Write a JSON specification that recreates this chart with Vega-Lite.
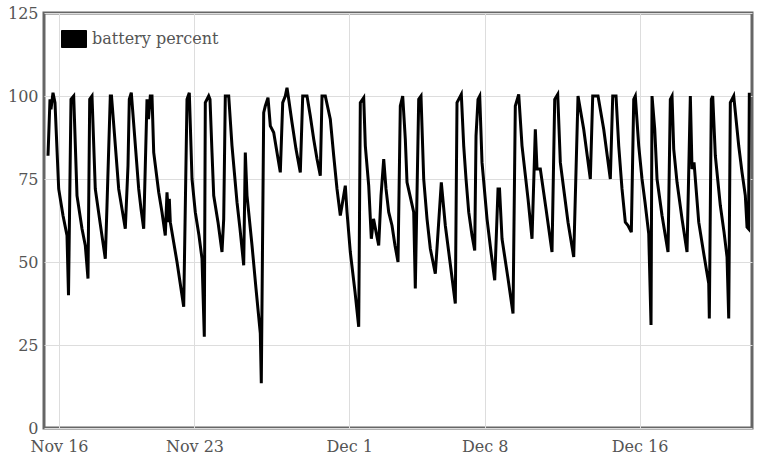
{
  "$schema": "https://vega.github.io/schema/vega-lite/v6.json",
  "width": 708,
  "height": 415,
  "autosize": "none",
  "padding": {"left": 44, "top": 13, "right": 8, "bottom": 36},
  "background": "white",
  "config": {
    "view": {"stroke": "#666666", "strokeWidth": 3},
    "font": "DejaVu Serif"
  },
  "data": {
    "values": [
      {"t": "2015-11-15T10:22", "v": 82},
      {"t": "2015-11-15T12:50", "v": 99},
      {"t": "2015-11-15T14:05", "v": 96},
      {"t": "2015-11-15T16:34", "v": 101},
      {"t": "2015-11-15T19:02", "v": 98},
      {"t": "2015-11-15T23:38", "v": 72},
      {"t": "2015-11-16T04:58", "v": 64},
      {"t": "2015-11-16T09:55", "v": 58},
      {"t": "2015-11-16T11:47", "v": 40},
      {"t": "2015-11-16T14:53", "v": 99},
      {"t": "2015-11-16T18:14", "v": 100},
      {"t": "2015-11-16T22:20", "v": 70},
      {"t": "2015-11-17T04:32", "v": 60},
      {"t": "2015-11-17T08:37", "v": 55},
      {"t": "2015-11-17T11:58", "v": 45},
      {"t": "2015-11-17T14:05", "v": 99},
      {"t": "2015-11-17T16:56", "v": 100},
      {"t": "2015-11-17T21:01", "v": 72},
      {"t": "2015-11-18T02:51", "v": 62},
      {"t": "2015-11-18T09:26", "v": 51},
      {"t": "2015-11-18T11:32", "v": 67},
      {"t": "2015-11-18T15:38", "v": 100},
      {"t": "2015-11-18T17:07", "v": 100},
      {"t": "2015-11-19T02:03", "v": 72},
      {"t": "2015-11-19T06:08", "v": 66},
      {"t": "2015-11-19T10:14", "v": 60},
      {"t": "2015-11-19T13:35", "v": 79},
      {"t": "2015-11-19T15:11", "v": 99},
      {"t": "2015-11-19T17:40", "v": 101},
      {"t": "2015-11-20T02:51", "v": 72},
      {"t": "2015-11-20T05:43", "v": 66},
      {"t": "2015-11-20T09:03", "v": 60},
      {"t": "2015-11-20T13:09", "v": 99},
      {"t": "2015-11-20T15:01", "v": 93},
      {"t": "2015-11-20T17:14", "v": 100},
      {"t": "2015-11-20T19:21", "v": 100},
      {"t": "2015-11-20T21:28", "v": 83},
      {"t": "2015-11-21T03:40", "v": 71},
      {"t": "2015-11-21T07:45", "v": 65},
      {"t": "2015-11-21T11:50", "v": 58},
      {"t": "2015-11-21T13:57", "v": 71},
      {"t": "2015-11-21T16:04", "v": 62},
      {"t": "2015-11-21T16:49", "v": 69},
      {"t": "2015-11-21T18:03", "v": 62},
      {"t": "2015-11-22T02:22", "v": 50},
      {"t": "2015-11-22T10:40", "v": 36.5},
      {"t": "2015-11-22T14:46", "v": 99},
      {"t": "2015-11-22T17:37", "v": 101},
      {"t": "2015-11-22T20:58", "v": 75},
      {"t": "2015-11-23T01:03", "v": 65},
      {"t": "2015-11-23T05:38", "v": 58},
      {"t": "2015-11-23T09:22", "v": 51},
      {"t": "2015-11-23T12:13", "v": 27.5},
      {"t": "2015-11-23T13:28", "v": 98},
      {"t": "2015-11-23T17:40", "v": 100},
      {"t": "2015-11-23T19:17", "v": 99},
      {"t": "2015-11-23T21:46", "v": 83},
      {"t": "2015-11-23T23:53", "v": 70},
      {"t": "2015-11-24T05:13", "v": 62},
      {"t": "2015-11-24T10:10", "v": 53},
      {"t": "2015-11-24T12:17", "v": 63},
      {"t": "2015-11-24T14:16", "v": 100},
      {"t": "2015-11-24T18:29", "v": 100},
      {"t": "2015-11-24T22:34", "v": 85},
      {"t": "2015-11-25T04:47", "v": 68},
      {"t": "2015-11-25T08:30", "v": 60},
      {"t": "2015-11-25T13:05", "v": 49},
      {"t": "2015-11-25T15:04", "v": 83},
      {"t": "2015-11-25T17:11", "v": 70},
      {"t": "2015-11-25T23:23", "v": 55},
      {"t": "2015-11-26T04:20", "v": 42},
      {"t": "2015-11-26T09:40", "v": 28.5},
      {"t": "2015-11-26T10:55", "v": 13.5},
      {"t": "2015-11-26T13:53", "v": 95},
      {"t": "2015-11-26T15:53", "v": 97},
      {"t": "2015-11-26T19:13", "v": 99.5},
      {"t": "2015-11-26T22:05", "v": 91},
      {"t": "2015-11-27T02:17", "v": 89},
      {"t": "2015-11-27T06:23", "v": 83},
      {"t": "2015-11-27T10:29", "v": 77},
      {"t": "2015-11-27T13:28", "v": 98},
      {"t": "2015-11-27T16:41", "v": 100},
      {"t": "2015-11-27T18:47", "v": 102.5},
      {"t": "2015-11-27T20:54", "v": 99},
      {"t": "2015-11-28T00:59", "v": 92},
      {"t": "2015-11-28T05:57", "v": 84},
      {"t": "2015-11-28T11:17", "v": 77},
      {"t": "2015-11-28T14:16", "v": 100},
      {"t": "2015-11-28T19:36", "v": 100},
      {"t": "2015-11-28T23:41", "v": 94},
      {"t": "2015-11-29T03:55", "v": 87},
      {"t": "2015-11-29T08:00", "v": 81},
      {"t": "2015-11-29T12:05", "v": 76},
      {"t": "2015-11-29T14:12", "v": 100},
      {"t": "2015-11-29T18:17", "v": 100},
      {"t": "2015-11-30T00:30", "v": 93},
      {"t": "2015-11-30T04:43", "v": 82},
      {"t": "2015-11-30T08:49", "v": 72},
      {"t": "2015-11-30T12:54", "v": 64},
      {"t": "2015-11-30T15:01", "v": 67},
      {"t": "2015-11-30T19:06", "v": 73},
      {"t": "2015-11-30T21:13", "v": 65},
      {"t": "2015-12-01T01:18", "v": 53},
      {"t": "2015-12-01T07:08", "v": 41},
      {"t": "2015-12-01T11:43", "v": 30.5},
      {"t": "2015-12-01T13:43", "v": 98},
      {"t": "2015-12-01T17:55", "v": 99.5},
      {"t": "2015-12-01T19:55", "v": 85},
      {"t": "2015-12-02T00:07", "v": 73},
      {"t": "2015-12-02T03:21", "v": 57},
      {"t": "2015-12-02T06:05", "v": 63},
      {"t": "2015-12-02T12:32", "v": 55},
      {"t": "2015-12-02T15:23", "v": 70},
      {"t": "2015-12-02T18:44", "v": 81},
      {"t": "2015-12-02T21:35", "v": 72},
      {"t": "2015-12-03T00:56", "v": 65},
      {"t": "2015-12-03T05:01", "v": 61},
      {"t": "2015-12-03T08:44", "v": 55},
      {"t": "2015-12-03T12:28", "v": 50},
      {"t": "2015-12-03T15:19", "v": 97},
      {"t": "2015-12-03T18:17", "v": 100},
      {"t": "2015-12-03T21:31", "v": 87},
      {"t": "2015-12-03T23:38", "v": 74},
      {"t": "2015-12-04T03:21", "v": 70},
      {"t": "2015-12-04T07:56", "v": 65},
      {"t": "2015-12-04T09:55", "v": 42},
      {"t": "2015-12-04T14:08", "v": 99},
      {"t": "2015-12-04T16:59", "v": 100},
      {"t": "2015-12-04T20:20", "v": 75},
      {"t": "2015-12-05T00:26", "v": 63},
      {"t": "2015-12-05T04:32", "v": 54},
      {"t": "2015-12-05T10:44", "v": 46.5},
      {"t": "2015-12-05T18:10", "v": 74},
      {"t": "2015-12-05T23:08", "v": 61},
      {"t": "2015-12-06T04:58", "v": 50},
      {"t": "2015-12-06T11:32", "v": 37.5},
      {"t": "2015-12-06T13:38", "v": 98},
      {"t": "2015-12-06T18:59", "v": 100.5},
      {"t": "2015-12-06T21:57", "v": 85},
      {"t": "2015-12-07T00:49", "v": 75},
      {"t": "2015-12-07T04:10", "v": 65},
      {"t": "2015-12-07T08:15", "v": 58},
      {"t": "2015-12-07T11:36", "v": 53.5},
      {"t": "2015-12-07T13:13", "v": 88},
      {"t": "2015-12-07T15:41", "v": 99},
      {"t": "2015-12-07T17:48", "v": 100},
      {"t": "2015-12-07T20:39", "v": 80},
      {"t": "2015-12-08T02:51", "v": 63},
      {"t": "2015-12-08T07:49", "v": 53},
      {"t": "2015-12-08T12:24", "v": 44.5},
      {"t": "2015-12-08T16:30", "v": 72},
      {"t": "2015-12-08T18:22", "v": 72},
      {"t": "2015-12-08T21:28", "v": 57},
      {"t": "2015-12-09T04:54", "v": 45},
      {"t": "2015-12-09T11:06", "v": 34.5},
      {"t": "2015-12-09T13:57", "v": 97},
      {"t": "2015-12-09T18:10", "v": 100.5},
      {"t": "2015-12-09T22:16", "v": 85},
      {"t": "2015-12-10T01:59", "v": 77},
      {"t": "2015-12-10T05:43", "v": 69},
      {"t": "2015-12-10T10:40", "v": 57},
      {"t": "2015-12-10T14:46", "v": 90},
      {"t": "2015-12-10T16:52", "v": 78},
      {"t": "2015-12-10T20:58", "v": 78},
      {"t": "2015-12-11T04:02", "v": 66},
      {"t": "2015-12-11T11:28", "v": 53},
      {"t": "2015-12-11T14:49", "v": 99},
      {"t": "2015-12-11T18:32", "v": 100.5},
      {"t": "2015-12-11T21:46", "v": 80},
      {"t": "2015-12-12T01:59", "v": 72},
      {"t": "2015-12-12T07:19", "v": 62},
      {"t": "2015-12-12T14:23", "v": 51.5},
      {"t": "2015-12-12T19:43", "v": 100},
      {"t": "2015-12-13T02:47", "v": 90},
      {"t": "2015-12-13T10:59", "v": 75},
      {"t": "2015-12-13T13:57", "v": 100},
      {"t": "2015-12-13T20:32", "v": 100},
      {"t": "2015-12-14T03:36", "v": 90},
      {"t": "2015-12-14T11:47", "v": 75},
      {"t": "2015-12-14T14:46", "v": 100},
      {"t": "2015-12-14T18:51", "v": 100},
      {"t": "2015-12-14T22:12", "v": 85},
      {"t": "2015-12-15T02:17", "v": 72},
      {"t": "2015-12-15T06:23", "v": 62},
      {"t": "2015-12-15T09:44", "v": 61},
      {"t": "2015-12-15T13:50", "v": 59},
      {"t": "2015-12-15T16:49", "v": 99},
      {"t": "2015-12-15T18:47", "v": 100},
      {"t": "2015-12-15T23:01", "v": 85},
      {"t": "2015-12-16T03:06", "v": 75},
      {"t": "2015-12-16T06:49", "v": 68},
      {"t": "2015-12-16T11:25", "v": 58.5},
      {"t": "2015-12-16T14:16", "v": 31},
      {"t": "2015-12-16T15:30", "v": 100},
      {"t": "2015-12-16T18:51", "v": 90},
      {"t": "2015-12-16T21:43", "v": 75},
      {"t": "2015-12-17T03:55", "v": 64},
      {"t": "2015-12-17T11:21", "v": 53},
      {"t": "2015-12-17T14:12", "v": 99},
      {"t": "2015-12-17T16:19", "v": 100},
      {"t": "2015-12-17T18:25", "v": 84},
      {"t": "2015-12-17T22:31", "v": 74},
      {"t": "2015-12-18T04:43", "v": 63},
      {"t": "2015-12-18T10:55", "v": 53},
      {"t": "2015-12-18T15:01", "v": 100},
      {"t": "2015-12-18T17:07", "v": 78},
      {"t": "2015-12-18T19:36", "v": 80},
      {"t": "2015-12-19T01:26", "v": 62},
      {"t": "2015-12-19T08:00", "v": 52},
      {"t": "2015-12-19T13:50", "v": 43.5},
      {"t": "2015-12-19T14:34", "v": 33},
      {"t": "2015-12-19T17:03", "v": 99},
      {"t": "2015-12-19T18:47", "v": 100},
      {"t": "2015-12-19T22:01", "v": 82},
      {"t": "2015-12-20T04:13", "v": 67},
      {"t": "2015-12-20T08:49", "v": 59},
      {"t": "2015-12-20T12:32", "v": 51.5},
      {"t": "2015-12-20T14:38", "v": 33},
      {"t": "2015-12-20T16:37", "v": 98},
      {"t": "2015-12-20T20:50", "v": 100},
      {"t": "2015-12-21T03:02", "v": 85},
      {"t": "2015-12-21T07:08", "v": 77},
      {"t": "2015-12-21T11:13", "v": 70},
      {"t": "2015-12-21T13:20", "v": 60.5},
      {"t": "2015-12-21T15:11", "v": 60},
      {"t": "2015-12-21T16:11", "v": 101}
    ]
  },
  "mark": {"type": "line", "strokeWidth": 3, "interpolate": "linear", "clip": true},
  "encoding": {
    "x": {
      "field": "t",
      "type": "temporal",
      "title": null,
      "scale": {
        "domain": [
          {"year": 2015, "month": 11, "date": 15, "hours": 5, "minutes": 24},
          {"year": 2015, "month": 12, "date": 21, "hours": 19, "minutes": 30}
        ]
      },
      "axis": {
        "values": [
          {"year": 2015, "month": 11, "date": 16},
          {"year": 2015, "month": 11, "date": 23},
          {"year": 2015, "month": 12, "date": 1},
          {"year": 2015, "month": 12, "date": 8},
          {"year": 2015, "month": 12, "date": 16}
        ],
        "format": "%b %-d",
        "labelFont": "DejaVu Serif",
        "labelFontSize": 16,
        "labelColor": "#555555",
        "labelPadding": 10,
        "labelBound": false,
        "labelOverlap": false,
        "labelFlush": false,
        "domain": false,
        "ticks": false,
        "grid": true,
        "gridColor": "#dddddd",
        "gridWidth": 1
      }
    },
    "y": {
      "field": "v",
      "type": "quantitative",
      "title": null,
      "scale": {"domain": [0, 125], "nice": false, "zero": true},
      "axis": {
        "values": [0, 25, 50, 75, 100, 125],
        "labelFont": "DejaVu Serif",
        "labelFontSize": 16,
        "labelColor": "#555555",
        "labelPadding": 6,
        "labelBound": false,
        "labelFlush": false,
        "labelOverlap": false,
        "domain": false,
        "ticks": false,
        "grid": true,
        "gridColor": "#dddddd",
        "gridWidth": 1
      }
    },
    "color": {
      "datum": "battery percent",
      "type": "nominal",
      "scale": {"range": ["#000000"]},
      "legend": {
        "title": null,
        "orient": "none",
        "legendX": 17,
        "legendY": 13,
        "symbolType": "M-1,-0.68H1V0.68H-1Z",
        "symbolSize": 625,
        "symbolFillColor": "#000000",
        "symbolStrokeColor": "#cccccc",
        "symbolStrokeWidth": 1,
        "labelFont": "DejaVu Serif",
        "labelFontSize": 16,
        "labelColor": "#555555",
        "labelOffset": 5
      }
    }
  }
}
